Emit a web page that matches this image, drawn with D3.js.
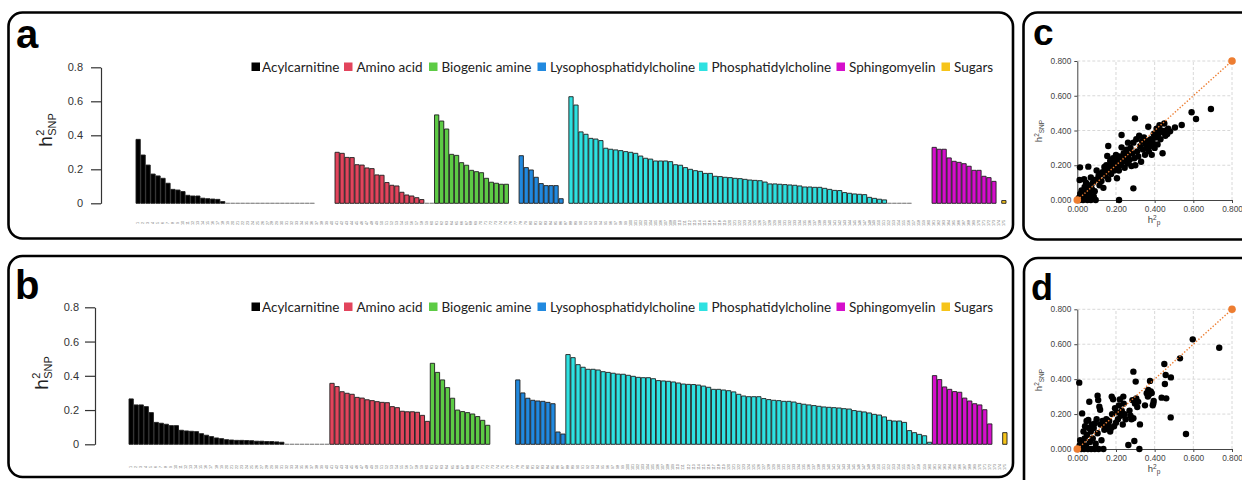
<!DOCTYPE html>
<html>
<head>
<meta charset="utf-8">
<script src="https://cdn.jsdelivr.net/npm/d3@7"></script>
<style>
  body { margin: 0; background: #fff; }
  svg { display: block; font-family: "Liberation Sans", Arial, sans-serif; }
</style>
</head>
<body>
<svg id="vis" width="1242" height="480"></svg>
<script>
// metabolite classes
var classNames = ["Acylcarnitine", "Amino acid", "Biogenic amine", "Lysophosphatidylcholine",
                  "Phosphatidylcholine", "Sphingomyelin", "Sugars"];
var barTicks = [0, 0.2, 0.4, 0.6, 0.8];
var scatTicks = [0, 0.2, 0.4, 0.6, 0.8];

// panel a : h2 SNP per metabolite, sorted inside class (null = empty slot)
var acylA = [0.376, 0.284, 0.225, 0.172, 0.161, 0.147, 0.118, 0.082, 0.078, 0.069,
             0.047, 0.043, 0.043, 0.030, 0.027, 0.025, 0.023, 0.010,
             0, 0, 0, 0, 0, 0, 0, 0, 0, 0, 0, 0, 0, 0, 0, 0, 0, 0, null, null, null, null];
var aminoA = [0.300, 0.294, 0.270, 0.269, 0.227, 0.225, 0.208, 0.204, 0.167, 0.165,
              0.122, 0.106, 0.102, 0.065, 0.049, 0.043, 0.033, 0.022, 0, 0];
var bioA = [0.520, 0.484, 0.437, 0.288, 0.282, 0.239, 0.224, 0.194, 0.186, 0.180,
            0.147, 0.124, 0.118, 0.112, 0.112, null, null];
var lysoA = [0.280, 0.210, 0.196, 0.153, 0.116, 0.104, 0.104, 0.104, 0.027, null];
var pcA = [0.627, 0.578, 0.420, 0.406, 0.382, 0.378, 0.369, 0.324, 0.318, 0.314,
           0.310, 0.304, 0.300, 0.294, 0.278, 0.265, 0.260, 0.249, 0.249, 0.249,
           0.245, 0.227, 0.224, 0.210, 0.200, 0.192, 0.188, 0.176, 0.176, 0.159,
           0.157, 0.153, 0.151, 0.147, 0.145, 0.141, 0.137, 0.135, 0.133, 0.125,
           0.114, 0.114, 0.112, 0.110, 0.108, 0.106, 0.102, 0.096, 0.096, 0.094,
           0.094, 0.088, 0.082, 0.076, 0.075, 0.063, 0.059, 0.055, 0.053, 0.051,
           0.035, 0.029, 0.024, 0.020, 0, 0, 0, 0, 0, null, null, null, null];
var smA = [0.329, 0.318, 0.318, 0.267, 0.247, 0.241, 0.233, 0.218, 0.194, 0.194,
           0.159, 0.151, 0.129, null];
var sugarA = [0.016];

// panel b
var acylB = [0.265, 0.230, 0.230, 0.220, 0.185, 0.128, 0.123, 0.117, 0.109, 0.109,
             0.082, 0.078, 0.076, 0.074, 0.062, 0.053, 0.045, 0.037, 0.033, 0.027,
             0.025, 0.023, 0.023, 0.022, 0.021, 0.018, 0.018, 0.016, 0.016, 0.014,
             0.012, 0, 0, 0, 0, 0, 0, 0, 0, 0];
var aminoB = [0.356, 0.337, 0.307, 0.298, 0.292, 0.274, 0.270, 0.260, 0.255, 0.249,
              0.245, 0.243, 0.220, 0.214, 0.193, 0.190, 0.190, 0.187, 0.169, 0.134];
var bioB = [0.473, 0.420, 0.376, 0.331, 0.269, 0.200, 0.191, 0.185, 0.177, 0.162,
            0.140, 0.111, null, null, null, null, null];
var lysoB = [0.376, 0.300, 0.269, 0.257, 0.253, 0.251, 0.245, 0.237, 0.072, 0.060];
var pcB = [0.524, 0.506, 0.465, 0.450, 0.438, 0.438, 0.434, 0.424, 0.420, 0.415,
           0.410, 0.409, 0.403, 0.397, 0.391, 0.389, 0.389, 0.383, 0.372, 0.370,
           0.368, 0.364, 0.358, 0.352, 0.350, 0.349, 0.346, 0.340, 0.333, 0.321,
           0.321, 0.317, 0.313, 0.306, 0.292, 0.282, 0.278, 0.278, 0.278, 0.267,
           0.261, 0.257, 0.255, 0.251, 0.251, 0.247, 0.239, 0.234, 0.230, 0.226,
           0.222, 0.218, 0.216, 0.214, 0.212, 0.208, 0.206, 0.197, 0.193, 0.189,
           0.183, 0.175, 0.171, 0.160, 0.140, 0.136, 0.136, 0.128, 0.080, 0.068,
           0.058, 0.050, 0.012];
var smB = [0.401, 0.378, 0.335, 0.321, 0.308, 0.304, 0.270, 0.253, 0.237, 0.230,
           0.202, 0.119, null, null];
var sugarB = [0.068];

// panel c : [h2p, h2SNP]
var scatC = [
  [0.003,0.000],[0.008,0.012],[0.012,0.000],[0.015,0.035],[0.020,0.008],[0.022,0.055],[0.028,0.020],
  [0.030,0.000],[0.035,0.045],[0.038,0.075],[0.042,0.010],[0.045,0.030],[0.050,0.060],[0.052,0.000],
  [0.058,0.085],[0.060,0.020],[0.065,0.045],[0.070,0.000],[0.075,0.065],[0.080,0.100],[0.085,0.020],
  [0.090,0.050],[0.095,0.000],[0.012,0.115],[0.014,0.188],[0.057,0.192],[0.035,0.120],[0.045,0.100],
  [0.070,0.130],[0.090,0.115],[0.100,0.170],[0.105,0.120],[0.110,0.140],[0.115,0.085],[0.120,0.150],
  [0.125,0.110],[0.130,0.160],[0.135,0.070],[0.140,0.190],[0.145,0.140],[0.150,0.200],[0.155,0.253],
  [0.155,0.165],[0.160,0.311],[0.160,0.120],[0.165,0.180],[0.170,0.225],[0.175,0.150],[0.180,0.200],
  [0.185,0.240],[0.190,0.170],[0.195,0.215],[0.200,0.190],[0.200,0.260],[0.205,0.125],[0.210,0.230],
  [0.215,0.170],[0.216,0.000],[0.220,0.250],[0.225,0.200],[0.229,0.303],[0.229,0.374],[0.235,0.220],
  [0.240,0.270],[0.245,0.185],[0.250,0.240],[0.255,0.290],[0.260,0.210],[0.262,0.330],[0.265,0.260],
  [0.270,0.230],[0.275,0.300],[0.280,0.195],[0.285,0.270],[0.290,0.067],[0.290,0.330],[0.295,0.240],
  [0.298,0.470],[0.300,0.200],[0.305,0.350],[0.310,0.280],[0.315,0.250],[0.320,0.370],[0.325,0.310],
  [0.330,0.220],[0.335,0.340],[0.340,0.290],[0.345,0.360],[0.350,0.260],[0.355,0.320],[0.360,0.300],
  [0.365,0.340],[0.367,0.422],[0.370,0.280],[0.375,0.310],[0.380,0.350],[0.385,0.260],[0.390,0.330],
  [0.395,0.380],[0.400,0.300],[0.405,0.360],[0.410,0.410],[0.415,0.320],[0.420,0.380],[0.425,0.430],
  [0.430,0.350],[0.435,0.400],[0.441,0.269],[0.445,0.390],[0.450,0.440],[0.455,0.370],[0.460,0.400],
  [0.465,0.380],[0.470,0.410],[0.480,0.395],[0.505,0.417],[0.540,0.432],[0.591,0.505],[0.614,0.466],
  [0.691,0.524]
];

// panel d
var scatD = [
  [0.003,0.000],[0.010,0.380],[0.012,0.020],[0.015,0.050],[0.020,0.000],[0.025,0.204],[0.028,0.030],
  [0.032,0.100],[0.035,0.000],[0.038,0.060],[0.040,0.130],[0.045,0.020],[0.048,0.160],[0.050,0.080],
  [0.055,0.000],[0.057,0.166],[0.060,0.120],[0.062,0.271],[0.065,0.040],[0.070,0.100],[0.072,0.000],
  [0.075,0.140],[0.080,0.060],[0.085,0.120],[0.090,0.000],[0.091,0.147],[0.095,0.030],[0.100,0.170],
  [0.105,0.305],[0.105,0.090],[0.108,0.280],[0.110,0.000],[0.114,0.242],[0.118,0.225],[0.120,0.140],
  [0.125,0.050],[0.130,0.160],[0.135,0.000],[0.140,0.110],[0.145,0.130],[0.150,0.170],[0.155,0.120],
  [0.160,0.140],[0.165,0.160],[0.170,0.100],[0.175,0.120],[0.178,0.300],[0.180,0.200],[0.185,0.285],
  [0.190,0.130],[0.195,0.233],[0.200,0.150],[0.205,0.210],[0.210,0.170],[0.215,0.250],[0.220,0.284],
  [0.225,0.190],[0.230,0.220],[0.235,0.140],[0.238,0.300],[0.240,0.260],[0.245,0.200],[0.250,0.170],
  [0.264,0.023],[0.270,0.220],[0.275,0.190],[0.280,0.170],[0.285,0.280],[0.290,0.443],[0.290,0.176],
  [0.295,0.046],[0.298,0.260],[0.302,0.386],[0.305,0.290],[0.310,0.240],[0.315,0.270],[0.321,0.000],
  [0.324,0.141],[0.350,0.250],[0.359,0.319],[0.365,0.300],[0.367,0.338],[0.370,0.310],[0.376,0.390],
  [0.380,0.330],[0.385,0.320],[0.390,0.250],[0.393,0.260],[0.395,0.275],[0.436,0.294],[0.450,0.487],
  [0.453,0.372],[0.457,0.424],[0.460,0.290],[0.483,0.181],[0.484,0.410],[0.531,0.519],[0.562,0.086],
  [0.597,0.628],[0.734,0.580]
];

var color = d3.scaleOrdinal()
  .domain(classNames)
  .range(["#000000", "#e2445c", "#5dcb45", "#2189df", "#2ee1e1", "#d50fcb", "#f6c41a"]);

var svg = d3.select("#vis");

// rounded frames
function frame(x, y, w, h) {
  svg.append("rect")
    .attr("x", x).attr("y", y).attr("width", w).attr("height", h)
    .attr("rx", 14).attr("ry", 14)
    .attr("fill", "none").attr("stroke", "#000").attr("stroke-width", 2.6);
}
frame(8.5, 12.5, 1004.5, 226);
frame(8.5, 256, 1004.5, 221);
frame(1023.5, 12.5, 240, 227);
frame(1024, 258, 240, 240);

function panelLetter(t, x, y, size) {
  svg.append("text").attr("x", x).attr("y", y)
    .attr("font-size", size).attr("font-weight", "bold").attr("fill", "#000")
    .text(t);
}
panelLetter("a", 16, 48, 40);
panelLetter("b", 15, 299, 40);
panelLetter("c", 1033, 45, 37);
panelLetter("d", 1031, 300, 36);

// h2 with stacked super/subscript, rotated
function h2Title(cx, cy, big, small, sub) {
  var g = svg.append("g").attr("transform", "translate(" + cx + "," + cy + ") rotate(-90)");
  var t = g.append("text").attr("fill", "#222").attr("font-size", big).text("h");
  var h = t.node().getComputedTextLength();
  var s = g.append("text").attr("font-size", small).attr("fill", "#222").text(sub);
  var w = h + 0.5 + s.node().getComputedTextLength();
  t.attr("x", -w / 2);
  s.attr("x", -w / 2 + h + 0.5).attr("y", big * 0.22);
  g.append("text").attr("x", -w / 2 + h + 0.5).attr("y", -big * 0.4)
    .attr("font-size", small).attr("fill", "#222").text("2");
}

var slotLabels = d3.range(1, 176).map(String);

function barPanel(groups, geo) {
  var slots = [];
  groups.forEach(function(vals, ci) {
    vals.forEach(function(v) { slots.push({ cls: classNames[ci], v: v }); });
  });
  slots.forEach(function(s, i) { s.id = slotLabels[i]; });

  var x = d3.scaleBand().domain(slots.map(function(s) { return s.id; }))
    .range(geo.xr).paddingInner(0.14).paddingOuter(0);
  var y = d3.scaleLinear().domain([0, 0.8]).range(geo.yr);

  var g = svg.append("g");

  // y axis
  var ax = g.append("g")
    .attr("transform", "translate(" + geo.axisX + ",0)")
    .call(d3.axisLeft(y).tickValues(barTicks).tickSize(10).tickSizeOuter(0).tickPadding(geo.pad)
      .tickFormat(function(d) { return d === 0 ? "0" : d3.format(".1f")(d); }));
  ax.select(".domain").attr("stroke", "#333").attr("stroke-width", 1.2);
  ax.selectAll(".tick line").attr("stroke", "#333").attr("stroke-width", 1.2);
  ax.selectAll(".tick text").attr("font-size", 11).attr("fill", "#333")
    .style("font-family", "'Liberation Sans', Arial, sans-serif");

  // bars
  var bw = x.bandwidth();
  g.selectAll("path.bar").data(slots.filter(function(s) { return s.v !== null; }))
    .enter().append("path")
    .attr("class", "bar")
    .attr("d", function(s) {
      var x0 = x(s.id), y0 = y(0), y1 = y(s.v);
      return "M" + x0 + "," + y0 + "V" + y1 + "H" + (x0 + bw) + "V" + y0 + "Z";
    })
    .attr("fill", function(s) { return color(s.cls); })
    .attr("stroke", function(s) { return s.v === 0 ? "#8a8a8a" : "#1e1e1e"; })
    .attr("stroke-width", 0.9);

  // tiny category labels
  g.selectAll("text.lab").data(slots).enter().append("text")
    .attr("class", "lab")
    .attr("transform", function(s) {
      return "translate(" + (x(s.id) + bw / 2 + 1) + "," + geo.labY + ") rotate(-90)";
    })
    .attr("text-anchor", "middle")
    .attr("font-size", 3.6).attr("fill", "#666")
    .text(function(s) { return s.id; });

  // legend
  var lg = g.selectAll("g.leg").data(classNames).enter().append("g")
    .attr("class", "leg")
    .attr("transform", function(d, i) { return "translate(" + geo.legX[i] + "," + geo.legY + ")"; });
  lg.append("rect").attr("x", 0).attr("y", -4.5).attr("width", 8.5).attr("height", 8.5)
    .attr("fill", function(d) { return color(d); });
  lg.append("text").attr("x", function(d, i) { return i === 0 ? 10.5 : 12.5; }).attr("y", 4.8)
    .attr("font-size", 13.5).attr("fill", "#222")
    .style("font-family", "Lato, 'Liberation Sans', sans-serif")
    .text(function(d) { return d; });

  h2Title(geo.titleX, geo.titleY, 19, 11, "SNP");
}

var legXs = [251.5, 344, 429, 537.5, 699, 836.5, 941.5];

barPanel([acylA, aminoA, bioA, lysoA, pcA, smA, sugarA], {
  xr: [136, 1006], yr: [203.3, 67.3], axisX: 101, pad: 8,
  labY: 223, legX: legXs, legY: 67, titleX: 52, titleY: 130
});
barPanel([acylB, aminoB, bioB, lysoB, pcB, smB, sugarB], {
  xr: [129, 1007], yr: [444.3, 307.3], axisX: 95, pad: 6,
  labY: 467, legX: legXs, legY: 307, titleX: 48, titleY: 373
});

function scatterPanel(pts, geo) {
  var x = d3.scaleLinear().domain([0, 0.8]).range(geo.xr);
  var y = d3.scaleLinear().domain([0, 0.8]).range(geo.yr);
  var g = svg.append("g");

  // dashed grid
  g.selectAll("line.gx").data(scatTicks.slice(1)).enter().append("line")
    .attr("x1", function(d) { return x(d); }).attr("x2", function(d) { return x(d); })
    .attr("y1", y(0)).attr("y2", y(0.8))
    .attr("stroke", "#d4d4d4").attr("stroke-width", 0.9).attr("stroke-dasharray", "3,2");
  g.selectAll("line.gy").data(scatTicks.slice(1)).enter().append("line")
    .attr("y1", function(d) { return y(d); }).attr("y2", function(d) { return y(d); })
    .attr("x1", x(0)).attr("x2", x(0.8))
    .attr("stroke", "#d4d4d4").attr("stroke-width", 0.9).attr("stroke-dasharray", "3,2");

  var fmt = d3.format(".3f");
  var ay = g.append("g").attr("transform", "translate(" + x(0) + ",0)")
    .call(d3.axisLeft(y).tickValues(scatTicks).tickSize(3).tickSizeOuter(0).tickPadding(3).tickFormat(fmt));
  var axb = g.append("g").attr("transform", "translate(0," + y(0) + ")")
    .call(d3.axisBottom(x).tickValues(scatTicks).tickSize(3).tickSizeOuter(0).tickPadding(3).tickFormat(fmt));
  [ay, axb].forEach(function(a) {
    a.select(".domain").attr("stroke", "#444").attr("stroke-width", 1);
    a.selectAll(".tick line").attr("stroke", "#444");
    a.selectAll(".tick text").attr("font-size", 8.3).attr("fill", "#444")
      .style("font-family", "'Liberation Sans', Arial, sans-serif");
  });

  // points
  g.selectAll("circle.pt").data(pts).enter().append("circle")
    .attr("class", "pt")
    .attr("cx", function(d) { return x(d[0]); })
    .attr("cy", function(d) { return y(d[1]); })
    .attr("r", 3.2).attr("fill", "#000");

  // identity line
  var ends = [[0, 0], [0.8, 0.8]];
  g.append("path").datum(ends)
    .attr("d", d3.line().x(function(d) { return x(d[0]); }).y(function(d) { return y(d[1]); }))
    .attr("stroke", "#ed7d31").attr("stroke-width", 1.4).attr("stroke-dasharray", "1.4,1.8")
    .attr("fill", "none");
  g.selectAll("circle.end").data(ends).enter().append("circle")
    .attr("cx", function(d) { return x(d[0]); }).attr("cy", function(d) { return y(d[1]); })
    .attr("r", 3.8).attr("fill", "#ed7d31");

  // axis titles
  var xt = g.append("text").attr("x", geo.xtX).attr("y", geo.xtY)
    .attr("text-anchor", "middle").attr("font-size", 9.5).attr("fill", "#444");
  xt.append("tspan").text("h");
  xt.append("tspan").attr("dy", -3.5).attr("font-size", 6.5).text("2");
  xt.append("tspan").attr("dy", 5.5).attr("font-size", 6.5).text("p");

  var yt = g.append("g").attr("transform", "translate(" + geo.ytX + "," + geo.ytY + ") rotate(-90)");
  var ytt = yt.append("text").attr("text-anchor", "middle").attr("font-size", 9.5).attr("fill", "#444");
  ytt.append("tspan").text("h");
  ytt.append("tspan").attr("dy", -3.5).attr("font-size", 6.5).text("2");
  ytt.append("tspan").attr("dy", 5.5).attr("font-size", 6.5).text("SNP");
}

scatterPanel(scatC, { xr: [1077.3, 1232], yr: [200, 61], xtX: 1154, xtY: 223, ytX: 1042, ytY: 131 });
scatterPanel(scatD, { xr: [1077.3, 1232], yr: [449, 309.3], xtX: 1154, xtY: 472, ytX: 1042, ytY: 380 });
</script>
</body>
</html>
